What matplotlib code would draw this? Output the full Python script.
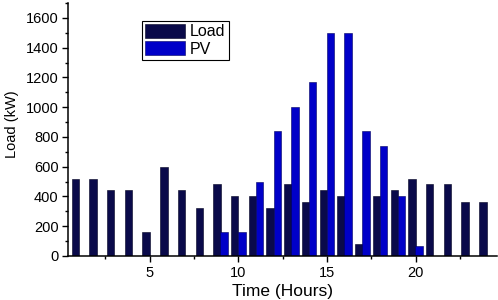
import matplotlib.pyplot as plt
import numpy as np
import matplotlib
from matplotlib.ticker import MultipleLocator

matplotlib.rcParams['font.family'] = 'Liberation Sans'

hours = list(range(1, 25))
load_kw = [520, 520, 440, 440, 160, 600, 440, 320, 480, 400, 400, 320,
           480, 360, 440, 400, 80, 400, 440, 520, 480, 480, 360, 360]
pv_kw = [0, 0, 0, 0, 0, 0, 0, 0, 160, 160, 500, 840,
         1000, 1170, 1500, 1500, 840, 740, 400, 65, 0, 0, 0, 0]

COLORS = {"Load": "#0a0a4a", "PV": "#0000c8"}

fig = plt.figure(figsize=(4.98, 3.0), dpi=100)
ax = fig.add_axes([0.137, 0.147, 0.861, 0.843])

x = np.array(hours)
w = 0.42
ax.bar(x - 0.2, load_kw, width=w, color=COLORS["Load"], edgecolor="#000020", linewidth=0.4, label="Load")
ax.bar(x + 0.2, pv_kw, width=w, color=COLORS["PV"], edgecolor="#000060", linewidth=0.4, label="PV")

ax.set_xlim(0.4, 24.6)
ax.set_ylim(0, 1700)
ax.xaxis.set_major_locator(MultipleLocator(5))
ax.xaxis.set_minor_locator(MultipleLocator(2.5))
ax.yaxis.set_major_locator(MultipleLocator(200))
ax.yaxis.set_minor_locator(MultipleLocator(100))
ax.tick_params(which="major", direction="out", length=4, width=1, labelsize=10.5, pad=3)
ax.tick_params(which="minor", direction="out", length=2, width=1)
ax.spines["top"].set_visible(False)
ax.spines["right"].set_visible(False)
ax.spines["left"].set_linewidth(1.1)
ax.spines["bottom"].set_linewidth(1.1)

ax.set_xlabel("Time (Hours)", fontsize=12.5, labelpad=3)
ax.set_ylabel("Load (kW)", fontsize=10.5, labelpad=5)
ax.yaxis.set_label_coords(-0.115, 0.52)

leg = ax.legend(loc="upper left", bbox_to_anchor=(0.172, 0.93), fontsize=11.5,
                frameon=True, fancybox=False, edgecolor="black", framealpha=1,
                handlelength=2.5, handleheight=0.95, labelspacing=0.12,
                borderpad=0.2, handletextpad=0.3, borderaxespad=0)
leg.get_frame().set_linewidth(0.8)

fig.savefig("out.png", facecolor="white")
